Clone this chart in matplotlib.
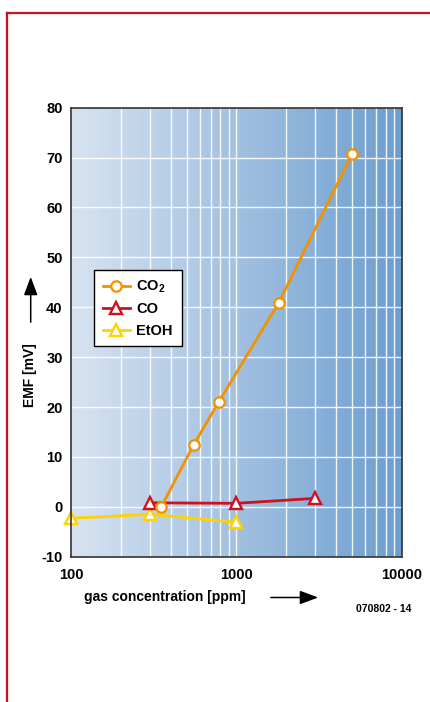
import numpy as np
import matplotlib
matplotlib.use("Agg")
import matplotlib.pyplot as plt
from matplotlib.lines import Line2D
from matplotlib.patches import FancyArrowPatch
from matplotlib.ticker import FixedLocator, NullFormatter, FixedFormatter

plt.rcParams['font.family'] = ['Liberation Sans', 'DejaVu Sans']
plt.rcParams['font.weight'] = 'bold'
plt.rcParams['axes.unicode_minus'] = False
plt.rcParams['mathtext.fontset'] = 'custom'
plt.rcParams['mathtext.rm'] = 'Liberation Sans:bold'
plt.rcParams['mathtext.bf'] = 'Liberation Sans:bold'
plt.rcParams['mathtext.it'] = 'Liberation Sans:bold'

# Data
co2_x = [350, 550, 780, 1800, 5000]
co2_y = [-0.1, 12.4, 21.0, 40.9, 70.8]
co_x = [300, 1000, 3000]
co_y = [0.8, 0.7, 1.7]
etoh_x = [100, 300, 1000]
etoh_y = [-2.3, -1.5, -3.1]

xticks = [100, 1000, 10000]
xticklabels = ['100', '1000', '10000']
yticks = [-10, 0, 10, 20, 30, 40, 50, 60, 70, 80]
yticklabels = ['-10', '0', '10', '20', '30', '40', '50', '60', '70', '80']

W, H = 431, 702
fig = plt.figure(figsize=(W / 100, H / 100), dpi=100)
fig.patch.set_facecolor('white')

# red border lines
red = '#d0101e'
fig.add_artist(Line2D([7 / W, 1.0], [1 - 12.7 / H, 1 - 12.7 / H], color=red, lw=1.6))
fig.add_artist(Line2D([7 / W, 7 / W], [0, 1 - 12.7 / H], color=red, lw=1.6))

ax = fig.add_axes([71 / W, 145.3 / H, 331 / W, 449 / H])
ax.set_xscale('log')
ax.set_xlim(100, 10000)
ax.set_ylim(-10, 80)

# gradient background
c0 = np.array([216, 227, 241]) / 255
c1 = np.array([108, 158, 207]) / 255
t = np.linspace(0, 1, 256)
grad = (c0[None, :] * (1 - t[:, None]) + c1[None, :] * t[:, None])[None, :, :]
ax.imshow(grad, extent=[0, 1, 0, 1], transform=ax.transAxes, aspect='auto', zorder=0)

# grid
minor = [m * 10 ** e for e in (2, 3) for m in range(2, 10)]
for xv in minor + [1000]:
    ax.axvline(xv, color='white', lw=1.0, alpha=0.9, zorder=1)
for yv in yticks[1:-1]:
    ax.axhline(yv, color='white', lw=1.0, alpha=0.9, zorder=1)

ax.plot(etoh_x, etoh_y, color='#ffd200', lw=2.0, marker='^', ms=8.5,
        mfc='white', mec='#ffd200', mew=1.7, zorder=3, label='EtOH', clip_on=False)
ax.plot(co_x, co_y, color='#d0101e', lw=2.0, marker='^', ms=8.5,
        mfc='white', mec='#d0101e', mew=1.7, zorder=4, label='CO', clip_on=False)
ax.plot(co2_x, co2_y, color='#f39200', lw=2.0, marker='o', ms=7.5,
        mfc='white', mec='#f39200', mew=1.6, zorder=5, label='CO$_2$', clip_on=False)

ax.xaxis.set_major_locator(FixedLocator(xticks))
ax.xaxis.set_major_formatter(FixedFormatter(xticklabels))
ax.xaxis.set_minor_locator(FixedLocator([]))
ax.xaxis.set_minor_formatter(NullFormatter())
ax.yaxis.set_major_locator(FixedLocator(yticks))
ax.yaxis.set_major_formatter(FixedFormatter(yticklabels))
ax.tick_params(axis='both', length=0, labelsize=10.5, pad=6)
for lab in ax.get_xticklabels() + ax.get_yticklabels():
    lab.set_fontweight('bold')
ax.tick_params(axis='x', pad=8)

for sp in ax.spines.values():
    sp.set_color('#333333')
    sp.set_linewidth(1.2)
    sp.set_zorder(6)

handles, labels = ax.get_legend_handles_labels()
order = [2, 1, 0]
leg = ax.legend([handles[i] for i in order], [labels[i] for i in order],
                loc='upper left', bbox_to_anchor=(23 / 331, (556.7 - 270) / 449),
                frameon=True, fancybox=False, edgecolor='black', framealpha=1,
                fontsize=10.5, handlelength=1.85, handletextpad=0.45,
                borderpad=0.6, labelspacing=0.5, borderaxespad=0)
leg.get_frame().set_linewidth(1.0)
leg.set_zorder(10)
for txt in leg.get_texts():
    txt.set_fontweight('bold')

# y label with arrow
fig.text(30 / W, 1 - 375 / H, 'EMF [mV]', rotation=90, ha='center', va='center',
         fontsize=10, fontweight='bold')
fig.add_artist(FancyArrowPatch(
    (30.7 / W, 1 - 325 / H), (30.7 / W, 1 - 274 / H), transform=fig.transFigure,
    arrowstyle='-|>,head_length=7,head_width=2.6', mutation_scale=1.6, color='black', lw=1.1))

# x label with arrow
fig.text(84 / W, 1 - 597 / H, 'gas concentration [ppm]', ha='left', va='center',
         fontsize=10, fontweight='bold')
fig.add_artist(FancyArrowPatch(
    (268 / W, 1 - 597.5 / H), (321 / W, 1 - 597.5 / H), transform=fig.transFigure,
    arrowstyle='-|>,head_length=7,head_width=2.6', mutation_scale=1.6, color='black', lw=1.1))

fig.text(411 / W, 1 - 609 / H, '070802 - 14', ha='right', va='center',
         fontsize=7.5, fontweight='bold')

fig.savefig('out.png', dpi=100)
